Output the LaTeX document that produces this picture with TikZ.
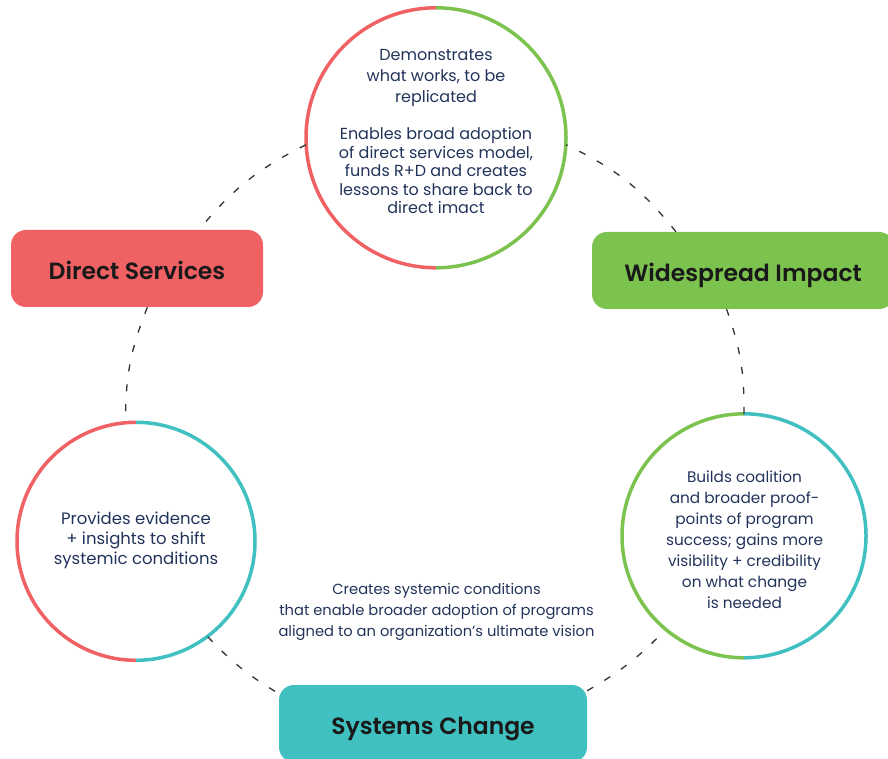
\documentclass[tikz,border=0pt]{standalone}
\usepackage{fontspec}
\setmainfont{Poppins}
\newfontfamily\headfont{Poppins SemiBold}
\usetikzlibrary{positioning}

\definecolor{ringred}{HTML}{F06163}
\definecolor{ringgreen}{HTML}{7CC24E}
\definecolor{ringteal}{HTML}{40C0C0}
\definecolor{navy}{HTML}{22335A}

\begin{document}
\begin{tikzpicture}[x=1pt,y=1pt,
stage/.style={
  rectangle,
  rounded corners=15pt,
  minimum height=77pt,
  text height=22pt,
  text depth=0pt,
  font=\headfont\fontsize{23.5}{26}\selectfont,
  text=black!90},
ring/.style={
  circle,
  inner sep=0pt,
  minimum size=#1},
note/.style={
  align=center,
  text=navy,
  font=\fontsize{14.7}{21}\selectfont},
link/.style={
  draw=black!80,
  line width=1.3pt,
  dash pattern=on 7pt off 13pt}
]
\useasboundingbox (0,0) rectangle (888,758);
\clip (0,0) rectangle (888,758);

% the three rings
\node[ring=260pt] (top) at (436,620) {};
\node[ring=238pt] (lc) at (136,216.5) {};
\node[ring=244pt] (rc) at (744,222) {};
\foreach \Ring/\Rad/\Left/\Right in {top/130/ringred/ringgreen,
    lc/119/ringred/ringteal, rc/122/ringgreen/ringteal}{
  \draw[\Left, line width=3.5pt] (\Ring.north) arc[start angle=90, end angle=270, radius=\Rad pt];
  \draw[\Right, line width=3.5pt] (\Ring.north) arc[start angle=90, end angle=-90, radius=\Rad pt];
}

% the three stages
\node[stage, fill=ringred, minimum width=252pt] (ds) at (137,489.5) {Direct Services};
\node[stage, fill=ringgreen, minimum width=302pt] (wi) at (743,487.5) {Widespread Impact};
\node[stage, fill=ringteal, minimum width=308pt] (sc) at (433,34.5) {Systems Change};

% texts
\node[note, font=\fontsize{16}{18.5}\selectfont] (toptext) at (436,626.5)
  {Demonstrates\\[2.5pt] what works, to be\\[2.5pt] replicated\\[19pt]
   Enables broad adoption\\ of direct services model,\\ funds R+D and creates\\
   lessons to share back to\\ direct imact};
\node[note, font=\fontsize{16.5}{20}\selectfont] (lctext) at (136,218)
  {Provides evidence\\ + insights to shift\\ systemic conditions};
\node[note, font=\fontsize{15.3}{21}\selectfont] (rctext) at (744.5,218.5)
  {Builds coalition\\ and broader proof-\\ points of program\\
  success; gains more\\ visibility + credibility\\ on what change\\ is needed};
\node[note] (sctext) at (436.5,146) {Creates systemic conditions\\ that enable broader adoption of programs\\
  aligned to an organization’s ultimate vision};

% dashed links round the cycle
\draw[link] (top.183) to[bend right=12] (ds.32);
\draw[link] (ds.-75) to[bend right=11] (lc.95);
\draw[link] (lc.-53) to[bend right=8] (sc.169);
\draw[link] (sc.12) to[bend right=8] (rc.230);
\draw[link] (rc.90) to[bend right=10] (wi.247);
\draw[link] (wi.150) to[bend right=13] (top.-3);
\end{tikzpicture}
\end{document}
